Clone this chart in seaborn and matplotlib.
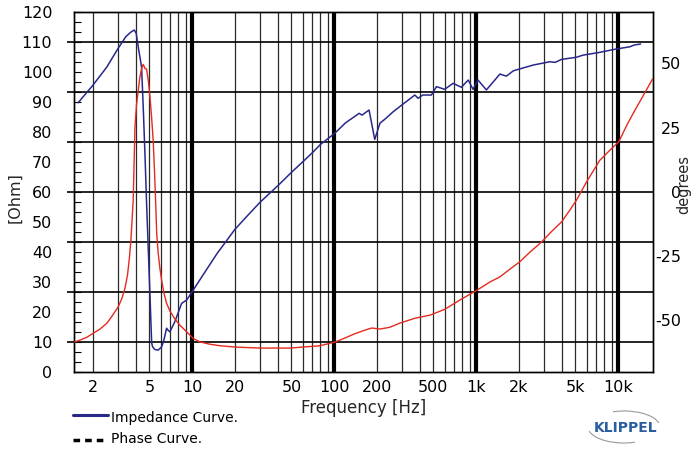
import numpy as np
import pandas as pd
import matplotlib
matplotlib.use("Agg")
import matplotlib.pyplot as plt
import seaborn as sns
from matplotlib.lines import Line2D
from matplotlib.patches import Arc
from matplotlib.ticker import NullLocator

# ---------------- data ----------------
imp_freq = [1.57, 2.0, 2.5, 3.01, 3.41, 3.70, 3.91, 4.03, 4.20, 4.30, 4.40, 4.52, 4.65,
            4.77, 4.90, 5.04, 5.18, 5.26, 5.46, 5.76, 6.09, 6.32, 6.6, 6.74, 6.96,
            7.55, 8.42, 9.13, 10.0, 12, 15, 20, 25, 30, 40, 50, 60, 70, 80, 100.7,
            120, 150, 157, 176, 193, 210, 227, 260, 300, 370, 390, 420, 484, 525, 600,
            687, 786, 880, 950, 1030, 1180, 1320, 1470, 1630, 1830, 2520, 3300, 3600,
            4000, 5080, 5650, 7340, 9550, 12100, 13000, 14400]
imp_ohm = [89.7, 95.6, 101.6, 107.9, 111.8, 113.3, 114.0, 112.9, 107.3, 104.5, 101.5,
           88.0, 72.1, 56.3, 41.2, 25.5, 9.6, 8.3, 7.4, 7.2, 8.3, 10.6, 14.5, 13.9,
           13.3, 16.7, 22.8, 23.9, 26.7, 32.5, 39.5, 47.5, 52.5, 56.5, 62.0, 66.5,
           70.0, 73.0, 75.8, 79.5, 83.0, 86.2, 85.6, 87.3, 77.5, 82.9, 84.2, 86.7,
           89.0, 92.3, 91.2, 92.3, 92.3, 95.1, 94.2, 96.2, 94.9, 97.3, 94.2, 97.3,
           94.0, 96.7, 99.3, 98.6, 100.4, 102.3, 103.4, 103.2, 104.2, 104.9, 105.6,
           106.5, 107.6, 108.4, 109.0, 109.3]

phase_freq = [1.47, 1.62, 1.81, 2.0, 2.24, 2.50, 2.72, 3.01, 3.20, 3.36, 3.50, 3.61,
              3.70, 3.77, 3.84, 3.90, 3.95, 4.05, 4.17, 4.28, 4.40, 4.52, 4.58, 4.65,
              4.77, 4.90, 5.04, 5.18, 5.31, 5.42, 5.52, 5.62, 5.76, 5.92, 6.09, 6.32,
              6.60, 6.97, 7.55, 8.19, 9.03, 10.2, 11.3, 13.3, 15.7, 20.0, 30.0, 48.8,
              79.3, 101, 119, 140, 165, 184, 210, 247, 290, 370, 472, 602, 768, 1011,
              1249, 1469, 1727, 2031, 2389, 2888, 3414, 3995, 4570, 5093, 5992, 7431,
              8740, 10110, 11520, 12750, 14930, 17550]
phase_deg = [-58.5, -57.7, -56.6, -55.1, -53.4, -51.2, -48.4, -44.8, -41.4, -37.5,
             -32.4, -25.8, -18.8, -11.0, -3.2, 12.3, 25.2, 33.7, 39.6, 44.6, 48.0,
             49.6, 48.9, 48.0, 47.8, 43.5, 37.0, 28.7, 20.1, 8.4, -3.2, -16.1, -23.9,
             -29.7, -34.4, -39.4, -43.4, -46.4, -49.5, -51.9, -54.2, -57.1, -58.4,
             -59.3, -59.9, -60.4, -60.8, -60.8, -59.9, -58.5, -56.9, -55.2, -53.8,
             -53.0, -53.4, -52.7, -51.1, -49.2, -48.0, -45.7, -42.1, -38.3, -35.1,
             -33.1, -30.1, -27.2, -23.5, -19.5, -15.3, -11.7, -7.1, -3.2, 3.9, 12.3,
             16.2, 19.5, 26.0, 30.5, 37.2, 44.1]

xtick_vals = [2, 5, 10, 20, 50, 100, 200, 500, 1000, 2000, 5000, 10000]
xtick_labels = ["2", "5", "10", "20", "50", "100", "200", "500", "1k", "2k", "5k", "10k"]
ohm_ticks = list(range(0, 121, 10))
deg_ticks = [-50, -25, 0, 25, 50]
deg_labels = ["-50", "-25", "0", "25", "50"]

NAVY = "#28288a"
RED = "#e52a1e"

# ---------------- style ----------------
sns.set_style("white")
plt.rcParams['font.family'] = ['DejaVu Sans']
plt.rcParams['text.color'] = 'black'
plt.rcParams['xtick.color'] = 'black'
plt.rcParams['ytick.color'] = 'black'

W, H = 691, 450
fig = plt.figure(figsize=(W / 100, H / 100), dpi=100)
L, R, T, B = 74, 653, 12, 371.7
ax = fig.add_axes([L / W, 1 - B / H, (R - L) / W, (B - T) / H])
ax.set_xscale('log')
ax.set_xlim(1.47, 17600)
ax.set_ylim(0, 120)

# vertical grid
for dec in [1, 10, 100, 1000, 10000]:
    for m in range(2, 10):
        f = m * dec
        if 1.47 < f < 17600:
            ax.axvline(f, color='#2a2a2a', lw=0.9, zorder=1)
for dec in [10, 100, 1000, 10000]:
    ax.axvline(dec, color='black', lw=3, zorder=1.5)

# horizontal grid (extends a little outside left spine)
grid_y = np.linspace(10, 110, 7)
ax.hlines(grid_y, -7 / (R - L), 1, transform=ax.get_yaxis_transform(),
          colors='black', lw=1.2, clip_on=False, zorder=1)

df_imp = pd.DataFrame({"freq": imp_freq, "ohm": imp_ohm})
df_ph = pd.DataFrame({"freq": phase_freq, "deg": phase_deg})

sns.lineplot(data=df_imp, x="freq", y="ohm", ax=ax, color=NAVY, lw=1.1,
             estimator=None, sort=False, legend=False, zorder=3)

ax2 = ax.twinx()
ax2.set_ylim(-70, 70)
sns.lineplot(data=df_ph, x="freq", y="deg", ax=ax2, color=RED, lw=1.0,
             estimator=None, sort=False, legend=False, zorder=3)
ax2.set_xlim(1.47, 17600)

# x ticks
ax.set_xticks(xtick_vals)
ax.set_xticklabels(xtick_labels)
ax.xaxis.set_minor_locator(NullLocator())
ax.tick_params(axis='x', which='both', length=0, pad=6, labelsize=11.5)

# left y ticks
ax.set_yticks(ohm_ticks)
ax.set_yticklabels([str(v) for v in ohm_ticks])
ax.set_yticks(np.linspace(0, 120, 37), minor=True)
ax.tick_params(axis='y', which='major', direction='in', length=5, width=0.8,
               pad=15.6, labelsize=11.5, left=True)
ax.tick_params(axis='y', which='minor', direction='in', length=5, width=0.8, left=True)

# right y ticks
ax2.set_yticks(deg_ticks)
ax2.set_yticklabels(deg_labels)
ax2.tick_params(axis='y', length=0, pad=20, labelsize=11.5)
for lbl in ax2.get_yticklabels():
    lbl.set_horizontalalignment('right')

for a in (ax, ax2):
    for s in a.spines.values():
        s.set_color('black')
        s.set_linewidth(1.0)
        s.set_visible(True)

ax.set_xlabel("Frequency [Hz]", fontsize=12, labelpad=3)
ax.set_ylabel("[Ohm]", fontsize=11.5)
ax.yaxis.label.set(va='center', ha='center', rotation_mode='default')
ax.yaxis.set_label_coords((15 - L) / (R - L), (B - 198) / (B - T))
ax2.set_ylabel("degrees", fontsize=10.5)
ax2.yaxis.label.set(va='center', ha='center', rotation=90, rotation_mode='default')
ax2.yaxis.set_label_coords((683.5 - L) / (R - L), (B - 185) / (B - T))

# legend (manual)
fig.add_artist(Line2D([73 / W, 108 / W], [1 - 415 / H] * 2, color=NAVY, lw=2.2))
fig.text(111 / W, 1 - 418 / H, "Impedance Curve.", fontsize=10, va='center', ha='left')
fig.add_artist(Line2D([73 / W, 107 / W], [1 - 440 / H] * 2, color='black', lw=2.5,
                      ls=(0, (1.9, 1.45))))
fig.text(111 / W, 1 - 439 / H, "Phase Curve.", fontsize=10, va='center', ha='left')

# KLIPPEL logo
fig.text(626 / W, 1 - 427.5 / H, "KLIPPEL", fontsize=10, fontweight='bold',
         color='#2a5ea0', ha='center', va='center')
cx, cy = 624 / W, 1 - 427 / H
fig.add_artist(Arc((cx, cy), 72 / W, 32 / H, theta1=10, theta2=115,
                   transform=fig.transFigure, color='#9a9a9a', lw=0.8))
fig.add_artist(Arc((cx, cy), 72 / W, 32 / H, theta1=190, theta2=295,
                   transform=fig.transFigure, color='#9a9a9a', lw=0.8))

fig.savefig("out.png", dpi=100)
